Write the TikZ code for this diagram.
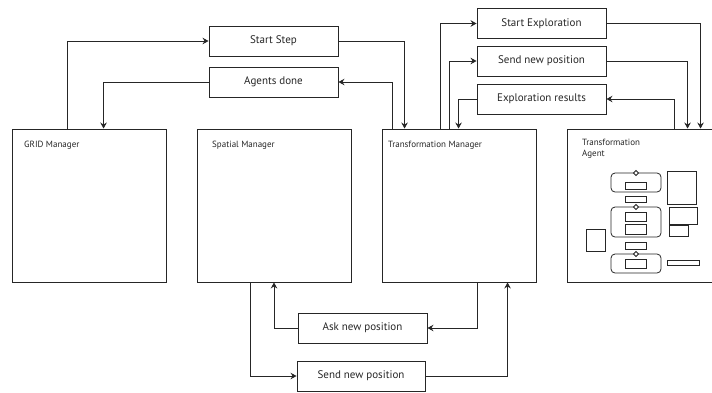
\documentclass[tikz,border=0pt]{standalone}
\usepackage{fontspec}
\setmainfont{PT Sans}
\usetikzlibrary{arrows.meta}
\definecolor{ink}{HTML}{262626}
\tikzset{
  box/.style={draw=ink, line width=0.9pt, minimum width=129pt, minimum height=30pt, inner sep=0pt, font=\fontsize{11}{12}\selectfont, text=ink},
  mgr/.style={draw=ink, line width=0.9pt, minimum width=154pt, minimum height=153pt, inner sep=0pt},
  mlabel/.style={anchor=west, inner sep=0pt, font=\fontsize{9}{10}\selectfont, text=ink, align=left},
  arr/.style={draw=ink, line width=0.9pt, -{Stealth[length=6pt,width=6.5pt,inset=2pt]}},
  part/.style={draw=ink, line width=0.8pt},
}
\begin{document}
\begin{tikzpicture}[x=1pt,y=-1pt]
\useasboundingbox (0,0) rectangle (712,392);
% message boxes
\node[box] (startstep) at (273.5,41) {Start Step};
\node[box] (agentsdone) at (273.5,82) {Agents done};
\node[box] (startexp) at (541.5,23.5) {Start Exploration};
\node[box] (sendpos1) at (541.5,61) {Send new position};
\node[box] (explres) at (541.5,99) {Exploration results};
\node[box] (ask) at (362.5,328) {Ask new position};
\node[box, minimum width=128pt] (sendpos2) at (361,376) {Send new position};
% managers
\node[mgr] (grid) at (89,205.5) {};
\node[mgr] (spatial) at (274,205.5) {};
\node[mgr] (tm) at (459,205.5) {};
\node[mgr] (ta) at (644,205.5) {};
\node[mlabel] (gridl) at (24,145) {GRID Manager};
\node[mlabel] (spatiall) at (212,145) {Spatial Manager};
\node[mlabel] (tml) at (388,145) {Transformation Manager};
\node[mlabel, anchor=north west] (tal) at (582,139) {Transformation\\[1pt]Agent};
% connectors
\draw[arr] ([xshift=56pt]grid.north west) |- (startstep.west);
\draw[arr] (agentsdone.west) -| ([xshift=92pt]grid.north west);
\draw[arr] (startstep.east) -| ([xshift=23pt]tm.north west);
\draw[arr] ([xshift=11pt]tm.north west) |- (agentsdone.east);
\draw[arr] ([xshift=59pt]tm.north west) |- (startexp.west);
\draw[arr] ([xshift=68pt]tm.north west) |- (sendpos1.west);
\draw[arr] (explres.west) -| ([xshift=77pt]tm.north west);
\draw[arr] (startexp.east) -| ([xshift=134pt]ta.north west);
\draw[arr] (sendpos1.east) -| ([xshift=121pt]ta.north west);
\draw[arr] ([xshift=108pt]ta.north west) |- (explres.east);
\draw[arr] (ask.west) -| (spatial.south);
\draw[arr] ([xshift=54pt]spatial.south west) |- (sendpos2.west);
\draw[arr] ([xshift=96pt]tm.south west) |- (ask.east);
\draw[arr] (sendpos2.east) -| ([xshift=126pt]tm.south west);
% transformation agent internals
\draw[part, rounded corners=4pt] (611,173) rectangle (661,192);
\draw[part, rounded corners=4pt] (611,207) rectangle (661,237);
\draw[part, rounded corners=4pt] (611,254) rectangle (661,273);
\foreach \yy in {173,207,254} {
  \draw[part, fill=white] (636,\yy-2.5) -- (638.5,\yy) -- (636,\yy+2.5) -- (633.5,\yy) -- cycle;
}
\draw[part] (625,182) rectangle (646,189);
\draw[part] (625,196) rectangle (646,202);
\draw[part] (625,212) rectangle (646,221);
\draw[part] (625,224) rectangle (646,234);
\draw[part] (625,242) rectangle (646,249);
\draw[part] (625,259) rectangle (646,268);
\draw[part] (667,171) rectangle (696,204);
\draw[part] (669,207) rectangle (697,224);
\draw[part] (669,225) rectangle (688,236);
\draw[part] (586,229) rectangle (605,251);
\draw[part] (667,260) rectangle (699,265);
\end{tikzpicture}
\end{document}
